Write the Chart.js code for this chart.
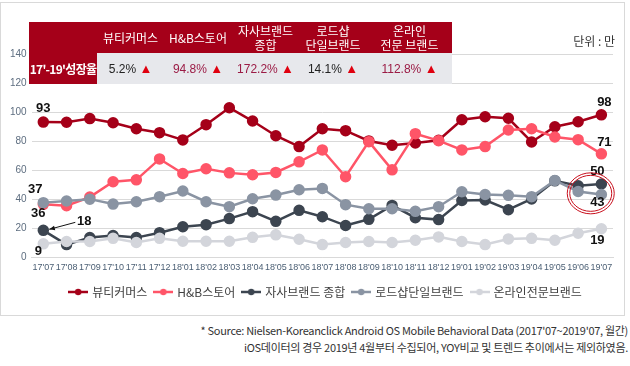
<!DOCTYPE html>
<html>
<head>
<meta charset="utf-8">
<script src="https://cdn.jsdelivr.net/npm/chart.js@4"></script>
<style>
  body { margin: 0; background: #fff; font-family: "Noto Sans CJK KR", "Noto Sans", sans-serif; }
  #wrap { position: relative; width: 630px; height: 366px; overflow: hidden; }
  #frame { position: absolute; left: 0; top: 2px; width: 623px; height: 312px; border: 1px solid #d9d9d9; }
  #chart { position: absolute; left: 0; top: 0; }
  #growth { position: absolute; left: 29px; top: 22px; border-collapse: collapse; table-layout: fixed; }
  #growth th { background: #a50019; color: #fff; font-weight: normal; font-size: 12px; line-height: 14px; height: 31px; padding: 0; text-align: center; }
  #growth td { background: #e7e8ec; font-size: 12px; height: 31px; padding: 0; text-align: center; font-family: "Liberation Sans", Arial, sans-serif; white-space: nowrap; }
  #growth td.head { background: #a50019; color: #fff; font-weight: bold; font-family: "Noto Sans CJK KR", sans-serif; letter-spacing: -0.7px; }
  #growth td .up { color: #e0000f; font-size: 13px; }
  #unit { position: absolute; right: 15px; top: 32px; font-size: 12px; color: #333; }
  #note { position: absolute; right: 2px; top: 322px; font-size: 11px; line-height: 17px; color: #333; text-align: right; letter-spacing: -0.3px; white-space: nowrap; }
</style>
</head>
<body>
<div id="wrap">
  <div id="frame"></div>
  <canvas id="chart" width="630" height="316"></canvas>
  <table id="growth"></table>
  <div id="unit">단위 : 만</div>
  <div id="note">* Source: Nielsen-Koreanclick Android OS Mobile Behavioral Data (2017'07~2019'07, 월간)<br>iOS데이터의 경우 2019년 4월부터 수집되어, YOY비교 및 트렌드 추이에서는 제외하였음.</div>
</div>
<script>
// months on the x axis
const months = ["17'07", "17'08", "17'09", "17'10", "17'11", "17'12", "18'01", "18'02", "18'03",
  "18'04", "18'05", "18'06", "18'07", "18'08", "18'09", "18'10", "18'11", "18'12",
  "19'01", "19'02", "19'03", "19'04", "19'05", "19'06", "19'07"];

const seriesNames = ['뷰티커머스', 'H&B스토어', '자사브랜드 종합', '로드샵단일브랜드', '온라인전문브랜드'];
const tableHeads = ['뷰티커머스', 'H&B스토어', '자사브랜드<br>종합', '로드샵<br>단일브랜드', '온라인<br>전문 브랜드'];
const growthRates = ['5.2%', '94.8%', '172.2%', '14.1%', '112.8%'];

// monthly users (만)
const beautyCommerce = [93.1, 93, 95.5, 92.6, 88.5, 85.8, 80.8, 91.3, 103, 93.8, 83.7, 76.2,
  88.5, 87.2, 80.1, 77.1, 78.7, 80.6, 94.7, 96.8, 95.7, 79.4, 89.9, 93.3, 98.1];
const hbStore = [36.4, 35.5, 41.4, 52, 53.3, 67.7, 57.7, 60.9, 58.1, 56.8, 58.4, 65.7,
  73.9, 55.4, 79.6, 60.2, 85.1, 80.3, 73.9, 76.2, 87.6, 88.5, 82.8, 81, 71.2];
const ownBrand = [18.5, 8.7, 13.5, 14.9, 13.5, 16.9, 21, 22.4, 26.6, 31.4, 24.7, 32.3,
  27.9, 21.8, 26.1, 35.7, 27.2, 25.9, 39.1, 39.4, 32.7, 40.1, 52.6, 49.2, 50.4];
const roadshop = [37.6, 38.7, 40, 36.6, 38.2, 41.7, 45.6, 38.2, 34.8, 40.3, 42.8, 46.5,
  47.4, 36.2, 33.4, 33.4, 31.6, 34.8, 45.1, 43.2, 42.6, 41.7, 52.9, 45.3, 43.2];
const onlineBrand = [9.2, 10.8, 10.8, 13, 10.1, 13, 11, 11, 11, 13.7, 15.4, 12.4,
  8.7, 10.1, 10.8, 10.1, 11.7, 14, 10.8, 8.7, 12.6, 13, 11.7, 16.5, 19.6];

const allSeries = [beautyCommerce, hbStore, ownBrand, roadshop, onlineBrand];
const colors = ['#a50019', '#ff5568', '#3c4550', '#8a94a3', '#d3d5db'];
const upColors = ['#222', '#9b1b45', '#9b1b45', '#222', '#9b1b45'];

// growth table
const table = document.getElementById('growth');
const widths = [68, 67, 68, 67, 68, 85];
let html = '<colgroup>' + widths.map(w => '<col style="width:' + w + 'px">').join('') + '</colgroup>';
html += '<tr><th></th>' + tableHeads.map(h => '<th>' + h + '</th>').join('') + '</tr>';
html += '<tr><td class="head">17\'-19\'성장율</td>' + growthRates.map((g, i) =>
  '<td><span style="color:' + upColors[i] + '">' + g + '</span> <span class="up">▲</span></td>').join('') + '</tr>';
table.innerHTML = html;

function legendIcon(color) {
  const c = document.createElement('canvas');
  c.width = 20; c.height = 10;
  const x = c.getContext('2d');
  x.strokeStyle = color; x.lineWidth = 2.5;
  x.beginPath(); x.moveTo(0, 5); x.lineTo(20, 5); x.stroke();
  x.fillStyle = color;
  x.beginPath(); x.arc(10, 5, 3.2, 0, Math.PI * 2); x.fill();
  return c;
}
const icons = colors.map(legendIcon);

// end labels, circle and arrow
const notes = {
  id: 'notes',
  beforeDraw(chart) {
    // legend sits a little right of centre in the original
    if (!chart.$legendShifted) {
      chart.legend.left += 17;
      chart.legend.right += 17;
      chart.$legendShifted = true;
    }
  },
  afterDatasetsDraw(chart) {
    const ctx = chart.ctx;
    const last = months.length - 1;
    const pt = (d, i) => chart.getDatasetMeta(d).data[i];
    const firstOff = [[0, -14], [-5, 9], null, [-8, -13], [-5, 8]];
    const lastOff = [[3, -12], [3, -11], [-4, -13], [-4, 8], [-4, 12]];
    ctx.save();
    ctx.font = 'bold 13px "Liberation Sans", Arial, sans-serif';
    ctx.fillStyle = '#111';
    ctx.textAlign = 'center';
    ctx.textBaseline = 'middle';
    allSeries.forEach((s, d) => {
      const p0 = pt(d, 0), p1 = pt(d, last);
      if (firstOff[d]) ctx.fillText(Math.floor(s[0]), p0.x + firstOff[d][0], p0.y + firstOff[d][1]);
      ctx.fillText(Math.floor(s[last]), p1.x + lastOff[d][0], p1.y + lastOff[d][1]);
    });
    // "18" with an arrow to the first point of 자사브랜드 종합
    const a = pt(2, 0);
    ctx.fillText(Math.floor(ownBrand[0]), a.x + 41, a.y - 9);
    ctx.strokeStyle = '#111'; ctx.lineWidth = 1;
    const sx = a.x + 32, sy = a.y - 8, ex = a.x + 6, ey = a.y - 1;
    ctx.beginPath(); ctx.moveTo(sx, sy); ctx.lineTo(ex, ey); ctx.stroke();
    const ang = Math.atan2(ey - sy, ex - sx);
    ctx.beginPath();
    ctx.moveTo(ex, ey);
    ctx.lineTo(ex - 6 * Math.cos(ang - 0.4), ey - 6 * Math.sin(ang - 0.4));
    ctx.lineTo(ex - 6 * Math.cos(ang + 0.4), ey - 6 * Math.sin(ang + 0.4));
    ctx.closePath(); ctx.fillStyle = '#111'; ctx.fill();
    // double ellipse round the last two months
    const xs = chart.scales.x, ys = chart.scales.y;
    const cx = (xs.getPixelForValue(last - 1) + xs.getPixelForValue(last)) / 2 + 1;
    const cy = ys.getPixelForValue(44);
    ctx.strokeStyle = '#c8101e'; ctx.lineWidth = 1;
    [[23.5, 20.5], [21, 18]].forEach(r => {
      ctx.beginPath(); ctx.ellipse(cx, cy, r[0], r[1], 0, 0, Math.PI * 2); ctx.stroke();
    });
    ctx.restore();
  }
};

Chart.defaults.font.family = '"Noto Sans CJK KR", "Noto Sans", sans-serif';

new Chart(document.getElementById('chart'), {
  type: 'line',
  data: {
    labels: months,
    datasets: allSeries.map((s, i) => ({
      label: seriesNames[i],
      data: s,
      borderColor: colors[i],
      backgroundColor: colors[i],
      pointBackgroundColor: colors[i],
      pointBorderColor: colors[i],
      borderWidth: 2.5,
      pointRadius: 4.5,
      pointHoverRadius: 4.5,
      tension: 0,
      order: allSeries.length - i
    }))
  },
  plugins: [notes],
  options: {
    responsive: false,
    animation: false,
    events: [],
    layout: { padding: { left: 5, right: 17, top: 54, bottom: 8 } },
    plugins: {
      tooltip: { enabled: false },
      legend: {
        position: 'bottom',
        labels: {
          usePointStyle: true,
          pointStyleWidth: 16,
          padding: 8,
          color: '#404040',
          font: { size: 12 },
          sort: (a, b) => a.datasetIndex - b.datasetIndex,
          generateLabels: chart => Chart.defaults.plugins.legend.labels.generateLabels(chart)
            .map(l => Object.assign(l, { pointStyle: icons[l.datasetIndex] }))
        }
      }
    },
    scales: {
      x: {
        offset: true,
        grid: { display: false, drawTicks: false },
        border: { color: '#d9d9d9' },
        ticks: { autoSkip: false, maxRotation: 0, padding: 5, color: '#4b5f74',
          font: { family: '"Liberation Sans", Arial, sans-serif', size: 9 } }
      },
      y: {
        min: 0, max: 140,
        grid: { color: '#d9d9d9', drawTicks: false },
        border: { display: false },
        ticks: { stepSize: 20, padding: 5, color: '#5e6e80',
          font: { family: '"Liberation Sans", Arial, sans-serif', size: 10 } }
      }
    }
  }
});
</script>
</body>
</html>
